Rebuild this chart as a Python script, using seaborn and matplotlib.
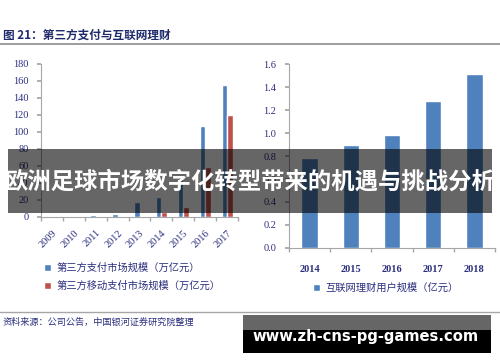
import pandas as pd
import matplotlib
matplotlib.use('Agg')
import matplotlib.pyplot as plt
import seaborn as sns
from matplotlib.patches import Rectangle
from matplotlib.lines import Line2D

# datos
anios_izq = ['2009', '2010', '2011', '2012', '2013', '2014', '2015', '2016', '2017']
pago_total = [0.5, 1.0, 2.2, 3.7, 17.2, 23.3, 49.5, 107.0, 155.0]
pago_movil = [0.1, 0.1, 0.2, 0.2, 1.2, 5.9, 12.2, 58.8, 120.0]
serie_izq = ['第三方支付市场规模（万亿元）', '第三方移动支付市场规模（万亿元）']

anios_der = ['2014', '2015', '2016', '2017', '2018']
usuarios = [0.78, 0.90, 0.98, 1.28, 1.51]
serie_der = '互联网理财用户规模（亿元）'

titulo = '图 21：第三方支付与互联网理财'
fuente = '资料来源：公司公告，中国银河证券研究院整理'
banner = '欧洲足球市场数字化转型带来的机遇与挑战分析'
web = 'www.zh-cns-pg-games.com'

azul = '#4f81bd'
rojo = '#c0504d'
navy = '#2b2f7e'

sns.set_theme(style='white')
plt.rcParams['font.family'] = ['Noto Sans CJK SC', 'DejaVu Sans']

df_izq = pd.DataFrame({
    'anio': anios_izq * 2,
    'valor': pago_total + pago_movil,
    'serie': [serie_izq[0]] * len(anios_izq) + [serie_izq[1]] * len(anios_izq),
})
df_der = pd.DataFrame({'anio': anios_der, 'valor': usuarios, 'serie': serie_der})

fig = plt.figure(figsize=(5, 3.62), dpi=100)
ax1 = fig.add_axes([0.082, 0.4006, 0.394, 0.4227])
ax2 = fig.add_axes([0.578, 0.315, 0.412, 0.508])

sns.barplot(data=df_izq, x='anio', y='valor', hue='serie', palette=[azul, rojo],
            width=0.5, saturation=1, ax=ax1)
sns.barplot(data=df_der, x='anio', y='valor', hue='serie', palette=[azul],
            width=0.4, saturation=1, ax=ax2)

serif = ['Liberation Serif', 'DejaVu Serif']
for ax in (ax1, ax2):
    ax.set_xlabel('')
    ax.set_ylabel('')
    for s in ['top', 'right']:
        ax.spines[s].set_visible(False)
    for s in ['left', 'bottom']:
        ax.spines[s].set_color('#a6a6a6')
        ax.spines[s].set_linewidth(0.8)
    ax.tick_params(axis='y', left=True, length=3, color='#a6a6a6', labelsize=7.5,
                   labelcolor=navy, pad=6)
    ax.tick_params(axis='x', bottom=False, labelsize=7.5, labelcolor=navy)
    n = len(ax.get_xticks())
    ax.set_xlim(-0.5, n - 0.5)
    ax.set_xticks([i - 0.5 for i in range(n + 1)], minor=True)
    ax.tick_params(axis='x', which='minor', bottom=True, length=3, color='#a6a6a6')
    for t in ax.get_yticklabels() + ax.get_xticklabels():
        t.set_family(serif)

ax1.set_ylim(0, 180)
ax1.set_yticks(range(0, 181, 20))
plt.setp(ax1.get_xticklabels(), rotation=45, ha='right', rotation_mode='anchor')
ax1.tick_params(axis='x', pad=2)

ax2.set_ylim(0, 1.6)
ax2.set_yticks([i / 10 for i in range(0, 17, 2)])
ax2.set_yticklabels([f'{i / 10:.1f}' for i in range(0, 17, 2)], family=serif)
for t in ax2.get_xticklabels():
    t.set_fontweight('bold')
ax2.tick_params(axis='x', pad=6)

# leyendas
h1, l1 = ax1.get_legend_handles_labels()
ax1.legend(h1, l1, loc='upper left', bbox_to_anchor=(0.07, 0.3),
           bbox_transform=fig.transFigure, frameon=False, fontsize=7.4,
           handlelength=0.7, handleheight=0.7, handletextpad=0.5,
           labelspacing=0.8, labelcolor=navy)
h2, l2 = ax2.get_legend_handles_labels()
ax2.legend(h2, l2, loc='upper left', bbox_to_anchor=(0.607, 0.245),
           bbox_transform=fig.transFigure, frameon=False, fontsize=7.4,
           handlelength=0.7, handleheight=0.7, handletextpad=0.5, labelcolor=navy)

# encabezado y pie
fig.text(0.006, 1 - 35 / 362, titulo, fontsize=8.4, fontweight='bold', color='#1f2a6b',
         va='center')
fig.add_artist(Line2D([0, 1], [1 - 44 / 362] * 2, color='#8c8c8c', lw=1.2))
fig.add_artist(Line2D([0, 1], [1 - 312 / 362] * 2, color='#a6a6a6', lw=1.0))
fig.text(0.006, 1 - 322 / 362, fuente, fontsize=6.6, style='italic', color=navy,
         va='center')

# franja superpuesta
fig.add_artist(Rectangle((8 / 500, 1 - 213 / 362), 484 / 500, 64 / 362,
                         transform=fig.transFigure, color='black', alpha=0.6,
                         lw=0, zorder=10))
fig.text(0.5, 1 - 182 / 362, banner, fontsize=16.8, fontweight='bold', color='white',
         ha='center', va='center', zorder=11)

# marca web
fig.add_artist(Rectangle((243 / 500, 1 - 353 / 362), 248 / 500, 38 / 362,
                         transform=fig.transFigure, color='black', lw=0, zorder=10))
fig.add_artist(Rectangle((243 / 500, 1 - 330 / 362), 248 / 500, 15 / 362,
                         transform=fig.transFigure, color='#666666', lw=0, zorder=10))
fig.text(366 / 500, 1 - 337 / 362, web, fontsize=10.6, fontweight='bold', color='white',
         family='DejaVu Sans', ha='center', va='center', zorder=11)

fig.savefig('out.png', dpi=100)
